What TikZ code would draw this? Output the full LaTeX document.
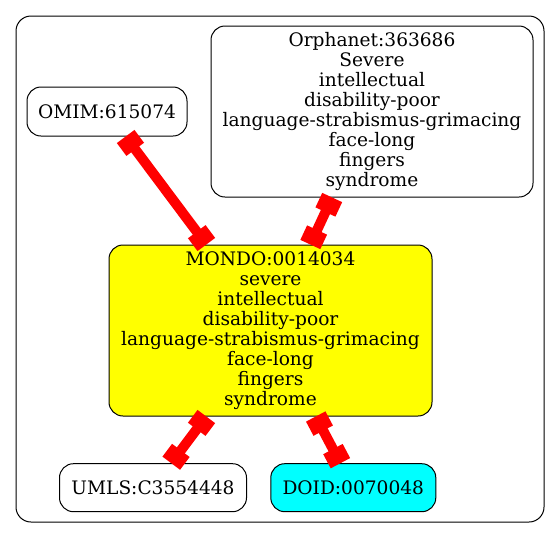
\documentclass[tikz,border=0pt]{standalone}
\usepackage{fontspec}
\setmainfont{DejaVu Serif}
\usetikzlibrary{arrows.meta}
\definecolor{gvyellow}{RGB}{255,255,0}
\definecolor{gvcyan}{RGB}{0,255,255}
\definecolor{gvred}{RGB}{255,0,0}
\begin{document}
\begin{tikzpicture}[x=1pt,y=-1pt,
  gnode/.style={draw=black, line width=1pt, rounded corners=14pt, align=center,
    inner sep=0pt, font=\fontsize{18.6}{20}\selectfont},
  link/.style={draw=gvred, line width=10pt,
    {Rectangle[length=16pt,width=22pt]}-{Rectangle[length=16pt,width=22pt]}}
]
\useasboundingbox (0,0) rectangle (560,539);
\draw[line width=1pt, rounded corners=15pt] (16,16) rectangle (544,522);
\node[gnode, minimum width=160pt, minimum height=49pt] (omim) at (107,111.5) {OMIM:615074};
\node[gnode, minimum width=322pt, minimum height=171pt] (orpha) at (372,111.5)
  {Orphanet:363686\\Severe\\intellectual\\disability-poor\\language-strabismus-grimacing\\face-long\\fingers\\syndrome};
\node[gnode, fill=gvyellow, minimum width=323pt, minimum height=171pt] (mondo) at (270.5,330.5)
  {MONDO:0014034\\severe\\intellectual\\disability-poor\\language-strabismus-grimacing\\face-long\\fingers\\syndrome};
\node[gnode, minimum width=187pt, minimum height=48pt] (umls) at (153,487.7) {UMLS:C3554448};
\node[gnode, fill=gvcyan, minimum width=165pt, minimum height=48pt] (doid) at (353.3,487.7) {DOID:0070048};
\draw[link] (omim) -- (mondo);
\draw[link] (orpha) -- (mondo);
\draw[link] (mondo) -- (umls);
\draw[link] (mondo) -- (doid);
\end{tikzpicture}
\end{document}
